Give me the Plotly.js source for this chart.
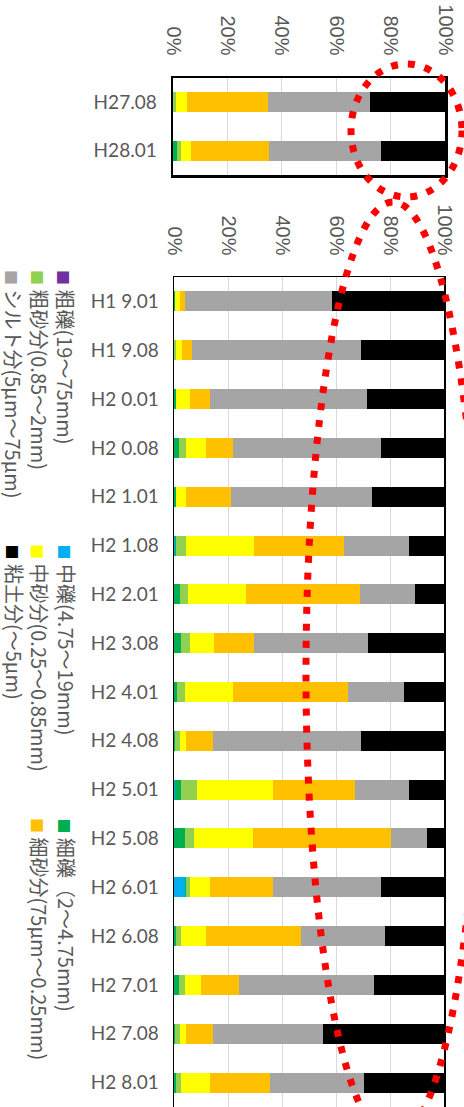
<!DOCTYPE html>
<html>
<head>
<meta charset="utf-8">
<script src="https://cdn.plot.ly/plotly-3.0.1.min.js"></script>
<style>
  html, body { margin: 0; padding: 0; background: #fff; }
  #chart { width: 464px; height: 1107px; }
</style>
</head>
<body>
<div id="chart"></div>
<script>
// ---- categories ----
const topDates = ['H27.08', 'H28.01'];
const mainDates = ['H1 9.01', 'H1 9.08', 'H2 0.01', 'H2 0.08', 'H2 1.01', 'H2 1.08', 'H2 2.01', 'H2 3.08',
                   'H2 4.01', 'H2 4.08', 'H2 5.01', 'H2 5.08', 'H2 6.01', 'H2 6.08', 'H2 7.01', 'H2 7.08', 'H2 8.01'];

// ---- series names and colours (stack order, left to right) ----
const seriesNames = ['粗礫(19～75mm)', '中礫(4.75～19mm)', '細礫（2～4.75mm)', '粗砂分(0.85～2mm)',
                     '中砂分(0.25～0.85mm)', '細砂分(75μm～0.25mm)', 'シルト分(5μm～75μm)', '粘土分(～5μm)'];
const seriesColors = ['#7030a0', '#00b0f0', '#00b050', '#92d050', '#ffff00', '#ffc000', '#a5a5a5', '#000000'];

// ---- percentages, upper panel ----
const topCoarseGravel = [0, 0];
const topMidGravel    = [0, 0];
const topFineGravel   = [0, 1.5];
const topCoarseSand   = [1.2, 1.3];
const topMidSand      = [4.0, 3.9];
const topFineSand     = [29.8, 28.6];
const topSilt         = [37.6, 41.0];
const topClay         = [27.4, 23.7];

// ---- percentages, lower panel ----
const coarseGravel = [0, 0, 0, 0, 0, 0, 0, 0, 0, 0, 0, 0, 0, 0, 0, 0, 0];
const midGravel    = [0, 0, 0, 0, 0, 0.3, 0, 0, 0, 0, 0.5, 0, 4.0, 0, 0, 0, 0];
const fineGravel   = [0.5, 0, 0.9, 2.0, 0.9, 0.6, 2.1, 2.5, 1.1, 0.5, 2.0, 4.0, 0.3, 0.9, 1.9, 0.5, 0.9];
const coarseSand   = [0, 0.9, 0, 2.3, 0, 3.4, 3.2, 3.3, 2.9, 1.6, 6.0, 3.3, 1.5, 1.6, 2.1, 1.6, 1.6];
const midSand      = [1.6, 2.1, 4.9, 7.7, 3.4, 25.2, 21.5, 9.0, 18.0, 2.2, 28.2, 21.9, 7.7, 9.5, 6.1, 2.2, 11.0];
const fineSand     = [1.9, 3.7, 7.7, 10.0, 16.7, 33.3, 42.1, 14.7, 42.3, 10.2, 30.4, 51.1, 23.3, 35.2, 13.8, 10.2, 22.2];
const silt         = [54.6, 62.4, 58.0, 54.6, 52.3, 24.2, 20.5, 42.3, 20.9, 54.6, 19.9, 13.4, 39.8, 30.8, 50.3, 40.6, 34.8];
const clay         = [41.4, 30.9, 28.5, 23.4, 26.7, 13.0, 10.6, 28.2, 14.8, 30.9, 13.0, 6.3, 23.4, 22.0, 25.8, 44.9, 29.5];

// ---- x-axis ticks ----
const pctTicks = [0, 20, 40, 60, 80, 100];
const pctLabels = ['0%', '20%', '40%', '60%', '80%', '100%'];

const topSeries = [topCoarseGravel, topMidGravel, topFineGravel, topCoarseSand, topMidSand, topFineSand, topSilt, topClay];
const mainSeries = [coarseGravel, midGravel, fineGravel, coarseSand, midSand, fineSand, silt, clay];

const W = 464, H = 1107;
const px = v => v / W;            // horizontal pixel -> paper
const py = v => 1 - v / H;        // vertical pixel -> paper

const traces = [];
topSeries.forEach((vals, i) => {
  traces.push({
    type: 'bar', orientation: 'h', x: vals, y: topDates,
    xaxis: 'x', yaxis: 'y', name: seriesNames[i],
    marker: { color: seriesColors[i], line: { width: 0 } },
    showlegend: false, hoverinfo: 'x+y+name'
  });
});
mainSeries.forEach((vals, i) => {
  traces.push({
    type: 'bar', orientation: 'h', x: vals, y: mainDates,
    xaxis: 'x2', yaxis: 'y2', name: seriesNames[i],
    marker: { color: seriesColors[i], line: { width: 0 } },
    showlegend: false, hoverinfo: 'x+y+name'
  });
});

const tickFont = { family: 'Liberation Sans, Arial, sans-serif', size: 20, color: '#595959' };
const catFont = { family: 'Lato, sans-serif', size: 19, color: '#595959' };

function pctAxis(domain, anchor, lw, mirror) {
  return {
    domain: domain, anchor: anchor, side: 'top', range: [0, 100],
    tickmode: 'array', tickvals: pctTicks, ticktext: pctLabels, tickangle: 90,
    ticks: 'outside', ticklen: 13, tickcolor: 'rgba(0,0,0,0)',
    tickfont: tickFont, showgrid: true, gridcolor: '#d9d9d9', gridwidth: 1,
    zeroline: false, showline: true, linecolor: '#000', linewidth: lw, mirror: mirror,
    fixedrange: true
  };
}
function catAxis(domain, anchor, cats, lw) {
  return {
    domain: domain, anchor: anchor, type: 'category', categoryorder: 'array', categoryarray: cats,
    range: [cats.length - 0.5, -0.5],
    ticks: 'outside', ticklen: 10, tickcolor: 'rgba(0,0,0,0)', tickfont: catFont,
    showgrid: false, zeroline: false, showline: true, linecolor: '#000', linewidth: lw, mirror: true,
    fixedrange: true
  };
}

// legend laid out in three rotated columns
const legendCols = [66, 40, 14];
const legendRows = [268, 542, 816];
const legendSlots = [[0, 0], [1, 0], [2, 0], [0, 1], [1, 1], [2, 1], [0, 2], [1, 2]];
const annotations = seriesNames.map((name, i) => {
  const [r, c] = legendSlots[i];
  return {
    xref: 'paper', yref: 'paper', x: px(legendCols[c]), y: py(legendRows[r]),
    xanchor: 'center', yanchor: 'top', textangle: 90, showarrow: false,
    text: '<span style="color:' + seriesColors[i] + ';font-size:15px">■</span> ' + name,
    font: { family: 'Noto Sans CJK JP, sans-serif', size: 20, color: '#595959' }
  };
});

// red dotted highlight rings
const ring = { color: '#ff0000', width: 7, dash: '7px,10px' };
const shapes = [
  { type: 'circle', xref: 'paper', yref: 'paper', layer: 'above',
    x0: px(351), x1: px(462), y0: py(197), y1: py(64), line: ring },
  { type: 'circle', xref: 'paper', yref: 'paper', layer: 'above',
    x0: px(306), x1: px(480), y0: py(1140), y1: py(202), line: ring }
];

const layout = {
  width: W, height: H, margin: { l: 0, r: 0, t: 0, b: 0 },
  paper_bgcolor: '#fff', plot_bgcolor: '#fff',
  barmode: 'stack', bargap: 0.59, showlegend: false,
  xaxis: pctAxis([px(173), px(445)], 'y', 2.5, true),
  yaxis: catAxis([py(175), py(78)], 'x', topDates, 2.5),
  xaxis2: pctAxis([px(174), px(444)], 'y2', 1.5, false),
  yaxis2: catAxis([0, py(277)], 'x2', mainDates, 1.5),
  annotations: annotations,
  shapes: shapes
};

Plotly.newPlot('chart', traces, layout, { displayModeBar: false, staticPlot: true });
</script>
</body>
</html>
